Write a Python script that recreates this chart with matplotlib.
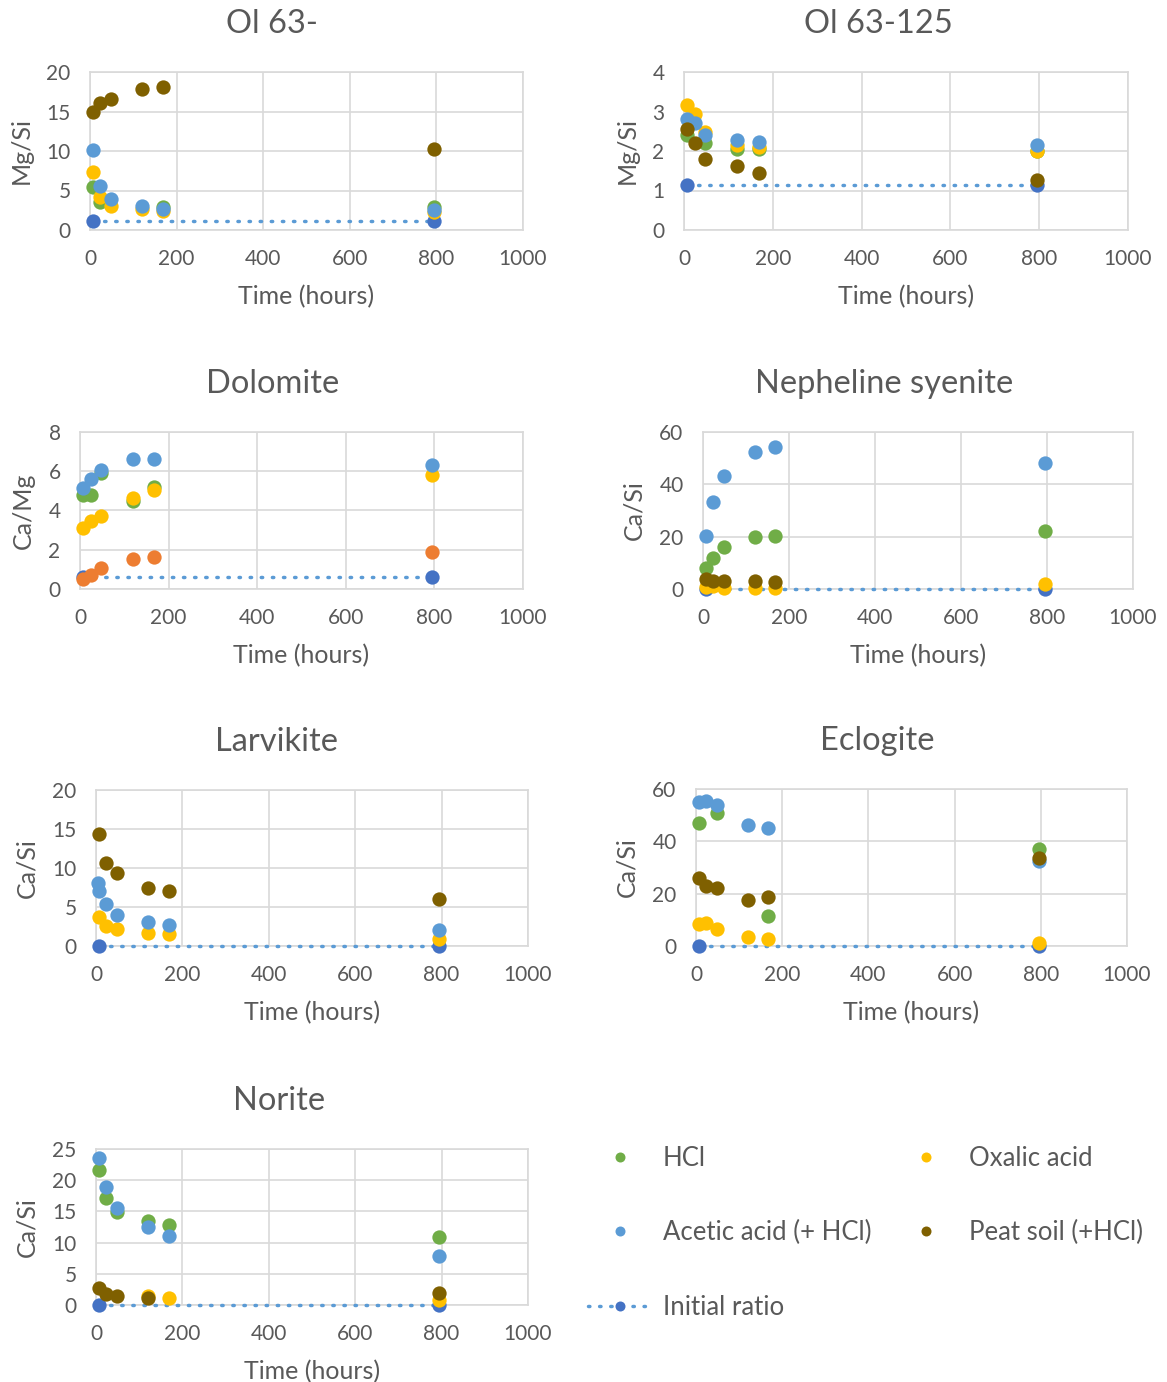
import matplotlib
matplotlib.use("Agg")
import matplotlib.pyplot as plt
from matplotlib.lines import Line2D

plt.rcParams['font.family'] = ['Lato', 'DejaVu Sans']

W, H = 1167, 1382
TEXT = '#595959'
GRID = '#D9D9D9'

GREEN = '#70AD47'
YELLOW = '#FFC000'
BLUE = '#5B9BD5'
BROWN = '#7F6000'
ORANGE = '#ED7D31'
DARK_BLUE = '#4472C4'

# sampling times (hours)
time_h = [6, 24, 48, 120, 168, 795]
larv_acetic_time = [4, 8, 24, 48, 120, 168, 795]

# Ol 63-  (Mg/Si)
ol63_hcl = [5.4, 3.6, None, None, 2.9, 2.9]
ol63_oxalic = [7.4, 4.2, 3.1, 2.6, 2.4, 2.3]
ol63_acetic = [10.1, 5.6, 3.9, 3.0, 2.7, 2.5]
ol63_peat = [15.0, 16.1, 16.6, 17.8, 18.1, 10.3]
ol63_initial = 1.1

# Ol 63-125  (Mg/Si)
ol125_hcl = [2.40, None, 2.21, 2.06, 2.04, 2.0]
ol125_oxalic = [3.16, 2.94, 2.48, 2.14, 2.11, 2.0]
ol125_acetic = [2.82, 2.70, 2.40, 2.29, 2.23, 2.14]
ol125_peat = [2.55, 2.21, 1.81, 1.61, 1.44, 1.27]
ol125_initial = 1.13

# Dolomite  (Ca/Mg)
dol_hcl = [4.8, 4.8, 5.9, 4.5, 5.2, None]
dol_oxalic = [3.1, 3.45, 3.7, 4.65, 5.05, 5.8]
dol_acetic = [5.15, 5.6, 6.05, 6.6, 6.6, 6.3]
dol_peat = [0.5, 0.7, 1.05, 1.55, 1.65, 1.9]
dol_initial = 0.62

# Nepheline syenite  (Ca/Si)
neph_hcl = [7.9, 12.0, 16.2, 19.7, 20.3, 22.0]
neph_oxalic = [0.9, 1.1, 0.4, 0.4, 0.4, 1.8]
neph_acetic = [20.4, 33.2, 43.0, 52.4, 54.2, 48.1]
neph_peat = [3.7, 3.0, 3.0, 3.0, 2.6, None]
neph_initial = 0.1

# Larvikite  (Ca/Si)
larv_hcl = [None] * 6
larv_oxalic = [3.7, 2.6, 2.2, 1.65, 1.55, 0.95]
larv_acetic = [8.1, 7.0, 5.4, 4.0, 3.1, 2.7, 2.1]
larv_peat = [14.3, 10.6, 9.3, 7.45, 7.0, 6.05]
larv_initial = 0.05

# Eclogite  (Ca/Si)
ecl_hcl = [47.0, None, 50.8, None, 11.4, 36.9]
ecl_oxalic = [8.5, 8.7, 6.6, 3.4, 2.5, 1.3]
ecl_acetic = [54.9, 55.4, 53.9, 46.3, 45.1, 32.5]
ecl_peat = [25.9, 23.0, 22.0, 17.7, 18.9, 33.7]
ecl_initial = 0.1

# Norite  (Ca/Si)
nor_hcl = [21.6, 17.2, 14.9, 13.5, 12.8, 10.9]
nor_oxalic = [None, None, None, 1.4, 1.1, 0.8]
nor_acetic = [23.5, 18.9, 15.6, 12.5, 11.1, 7.9]
nor_peat = [2.7, 1.7, 1.4, 1.1, None, 1.9]
nor_initial = 0.05

# panel boxes in pixels: left, right, top, bottom; title centre x in pixels
panels = [
    dict(title='Ol 63-', ylabel='Mg/Si', ymax=20, step=5, box=(90, 523, 72, 230), tx=272,
         hcl=ol63_hcl, oxalic=ol63_oxalic, acetic=ol63_acetic, peat=ol63_peat,
         initial=ol63_initial),
    dict(title='Ol 63-125', ylabel='Mg/Si', ymax=4, step=1, box=(684, 1128, 72, 230), tx=878,
         hcl=ol125_hcl, oxalic=ol125_oxalic, acetic=ol125_acetic, peat=ol125_peat,
         initial=ol125_initial),
    dict(title='Dolomite', ylabel='Ca/Mg', ymax=8, step=2, box=(80, 523, 432, 589), tx=273,
         hcl=dol_hcl, oxalic=dol_oxalic, acetic=dol_acetic, peat=dol_peat,
         initial=dol_initial, peat_color=ORANGE),
    dict(title='Nepheline syenite', ylabel='Ca/Si', ymax=60, step=20, box=(703, 1133, 432, 589),
         tx=884, hcl=neph_hcl, oxalic=neph_oxalic, acetic=neph_acetic, peat=neph_peat,
         initial=neph_initial),
    dict(title='Larvikite', ylabel='Ca/Si', ymax=20, step=5, box=(96, 528, 790, 946), tx=277,
         hcl=larv_hcl, oxalic=larv_oxalic, acetic=larv_acetic, peat=larv_peat,
         initial=larv_initial, acetic_time=larv_acetic_time),
    dict(title='Eclogite', ylabel='Ca/Si', ymax=60, step=20, box=(696, 1127, 789, 946), tx=877,
         hcl=ecl_hcl, oxalic=ecl_oxalic, acetic=ecl_acetic, peat=ecl_peat,
         initial=ecl_initial),
    dict(title='Norite', ylabel='Ca/Si', ymax=25, step=5, box=(96, 528, 1149, 1305), tx=279,
         hcl=nor_hcl, oxalic=nor_oxalic, acetic=nor_acetic, peat=nor_peat,
         initial=nor_initial),
]

MS = 10.3  # marker size in points
DOTTED = (0, (0.4, 2.8))


def dots(ax, t, vals, color):
    pts = [(x, v) for x, v in zip(t, vals) if v is not None]
    if not pts:
        return
    xs, ys = zip(*pts)
    ax.plot(xs, ys, 'o', color=color, ms=MS, mec='none', clip_on=False, zorder=4)


fig = plt.figure(figsize=(W / 100, H / 100), dpi=100, facecolor='white')

for p in panels:
    l, r, t, b = p['box']
    ax = fig.add_axes([l / W, 1 - b / H, (r - l) / W, (b - t) / H])
    ax.set_xlim(0, 1000)
    ax.set_ylim(0, p['ymax'])
    ax.set_xticks(range(0, 1001, 200))
    ax.set_yticks(range(0, p['ymax'] + 1, p['step']))
    ax.grid(True, color=GRID, lw=1.2)
    ax.set_axisbelow(True)
    for s in ax.spines.values():
        s.set_color(GRID)
        s.set_linewidth(1.2)
    ax.tick_params(length=0, pad=14, labelsize=15, labelcolor=TEXT)
    ax.set_title(p['title'], fontsize=23.5, color=TEXT, pad=28,
                 x=(p['tx'] - l) / (r - l))
    ax.set_xlabel('Time (hours)', fontsize=18, color=TEXT, labelpad=11)
    ax.set_ylabel(p['ylabel'], fontsize=18, color=TEXT, labelpad=10)

    # initial ratio: dotted line between first and last sampling
    t0, t1 = time_h[0], time_h[-1]
    ax.plot([t0, t1], [p['initial']] * 2, color=BLUE, lw=2.5,
            linestyle=DOTTED, dash_capstyle='round', zorder=3, clip_on=False)
    ax.plot([t0, t1], [p['initial']] * 2, 'o', color=DARK_BLUE, ms=MS, mec='none',
            zorder=3.5, clip_on=False)

    dots(ax, time_h, p['hcl'], GREEN)
    dots(ax, time_h, p['oxalic'], YELLOW)
    dots(ax, p.get('acetic_time', time_h), p['acetic'], BLUE)
    dots(ax, time_h, p['peat'], p.get('peat_color', BROWN))

# shared legend
LMS = 7.2
handles = [
    Line2D([], [], ls='none', marker='o', color=GREEN, ms=LMS, mec='none'),
    Line2D([], [], ls='none', marker='o', color=BLUE, ms=LMS, mec='none'),
    Line2D([], [], color=BLUE, lw=2.5, ls=DOTTED, dash_capstyle='round',
           marker='o', markerfacecolor=DARK_BLUE, mec='none', ms=LMS),
    Line2D([], [], ls='none', marker='o', color=YELLOW, ms=LMS, mec='none'),
    Line2D([], [], ls='none', marker='o', color=BROWN, ms=LMS, mec='none'),
]
labels = ['HCl', 'Acetic acid (+ HCl)', 'Initial ratio', 'Oxalic acid', 'Peat soil (+HCl)']
fig.legend(handles, labels, ncol=2, loc='upper left',
           bbox_to_anchor=(588 / W, 1 - 1146 / H), frameon=False,
           fontsize=18.5, labelcolor=TEXT, handlelength=2.5, handletextpad=0.4,
           columnspacing=0.9, labelspacing=1.92, borderpad=0, borderaxespad=0)

fig.savefig('out.png', dpi=100, facecolor='white')
